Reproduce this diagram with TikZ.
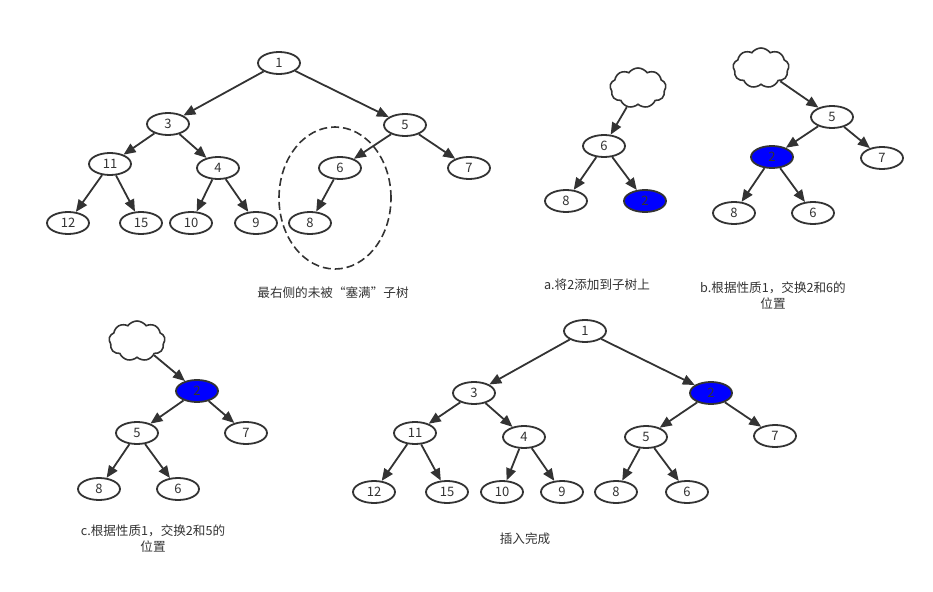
\documentclass[tikz,border=0pt]{standalone}
\usepackage{fontspec}
\setmainfont{Noto Sans CJK SC}
\usepackage{tikz}
\usepackage{xcolor}
\usetikzlibrary{shapes.geometric,shapes.symbols,arrows.meta}
\definecolor{ink}{HTML}{333333}
\tikzset{
    heap-node/.style = {draw=ink, fill=white, line width=1.8pt, ellipse, minimum width=42pt, minimum height=22pt, inner sep=0pt, text=ink, font=\fontsize{13}{13}\selectfont},
    heap-new/.style = {heap-node, fill=blue},
    heap-edge/.style = {draw=ink, line width=1.8pt, -{Triangle[length=12pt,width=10pt]}},
    heap-cloud/.style = {draw=ink, fill=white, line width=1.6pt, cloud, cloud puffs=9, cloud puff arc=110, aspect=1.4, minimum width=56pt, minimum height=40pt, inner sep=0pt},
    heap-caption/.style = {text=ink, align=center, font=\fontsize{12.6}{16}\selectfont},
}
\begin{document}
\begin{tikzpicture}[x=1pt, y=-1pt]
\useasboundingbox (0,0) rectangle (933,591);
% original heap
\node[draw=ink, line width=1.6pt, dash pattern=on 8pt off 4pt, ellipse, minimum width=112pt, minimum height=142pt] (a-ring) at (335,198) {};
\node[heap-node] (a-1) at (279,63) {1};
\node[heap-node] (a-3) at (168,124) {3};
\node[heap-node] (a-5) at (405,125) {5};
\node[heap-node] (a-11) at (110,164) {11};
\node[heap-node] (a-4) at (218,168) {4};
\node[heap-node] (a-6) at (340,168) {6};
\node[heap-node] (a-7) at (469,168) {7};
\node[heap-node] (a-12) at (68,223) {12};
\node[heap-node] (a-15) at (141,223) {15};
\node[heap-node] (a-10) at (191,223) {10};
\node[heap-node] (a-9) at (256,223) {9};
\node[heap-node] (a-8) at (310,223) {8};
\foreach \from/\to in {1/3, 1/5, 3/11, 3/4, 5/6, 5/7, 11/12, 11/15, 4/10, 4/9, 6/8}
    \draw[heap-edge] (a-\from) -- (a-\to);
\node[heap-caption] (a-text) at (333,293) {最右侧的未被“塞满”子树};

% step a
\node[heap-cloud] (b-cloud) at (638,88) {};
\node[heap-node] (b-6) at (604,146) {6};
\node[heap-node] (b-8) at (566,201) {8};
\node[heap-new] (b-2) at (645,201) {2};
\draw[heap-edge] (b-cloud) -- (b-6);
\draw[heap-edge] (b-6) -- (b-8);
\draw[heap-edge] (b-6) -- (b-2);
\node[heap-caption] (b-text) at (597,285) {a.将2添加到子树上};

% step b
\node[heap-cloud] (c-cloud) at (761,68) {};
\node[heap-node] (c-5) at (832,117) {5};
\node[heap-new] (c-2) at (772,157) {2};
\node[heap-node] (c-7) at (882,158) {7};
\node[heap-node] (c-8) at (734,213) {8};
\node[heap-node] (c-6) at (813,213) {6};
\draw[heap-edge] (c-cloud) -- (c-5);
\foreach \from/\to in {5/2, 5/7, 2/8, 2/6}
    \draw[heap-edge] (c-\from) -- (c-\to);
\node[heap-caption] (c-text) at (773,296) {b.根据性质1，交换2和6的\\位置};

% step c
\node[heap-cloud] (d-cloud) at (137,341) {};
\node[heap-new] (d-2) at (197,391) {2};
\node[heap-node] (d-5) at (137,433) {5};
\node[heap-node] (d-7) at (246,433) {7};
\node[heap-node] (d-8) at (99,489) {8};
\node[heap-node] (d-6) at (178,489) {6};
\draw[heap-edge] (d-cloud) -- (d-2);
\foreach \from/\to in {2/5, 2/7, 5/8, 5/6}
    \draw[heap-edge] (d-\from) -- (d-\to);
\node[heap-caption] (d-text) at (153,539) {c.根据性质1，交换2和5的\\位置};

% final heap
\node[heap-node] (e-1) at (585,331) {1};
\node[heap-node] (e-3) at (474,393) {3};
\node[heap-new] (e-2) at (711,393) {2};
\node[heap-node] (e-11) at (415,433) {11};
\node[heap-node] (e-4) at (524,437) {4};
\node[heap-node] (e-5) at (646,437) {5};
\node[heap-node] (e-7) at (775,436) {7};
\node[heap-node] (e-12) at (374,492) {12};
\node[heap-node] (e-15) at (447,492) {15};
\node[heap-node] (e-10) at (502,492) {10};
\node[heap-node] (e-9) at (562,492) {9};
\node[heap-node] (e-8) at (616,492) {8};
\node[heap-node] (e-6) at (687,492) {6};
\foreach \from/\to in {1/3, 1/2, 3/11, 3/4, 2/5, 2/7, 11/12, 11/15, 4/10, 4/9, 5/8, 5/6}
    \draw[heap-edge] (e-\from) -- (e-\to);
\node[heap-caption] (e-text) at (525,539) {插入完成};
\end{tikzpicture}
\end{document}
